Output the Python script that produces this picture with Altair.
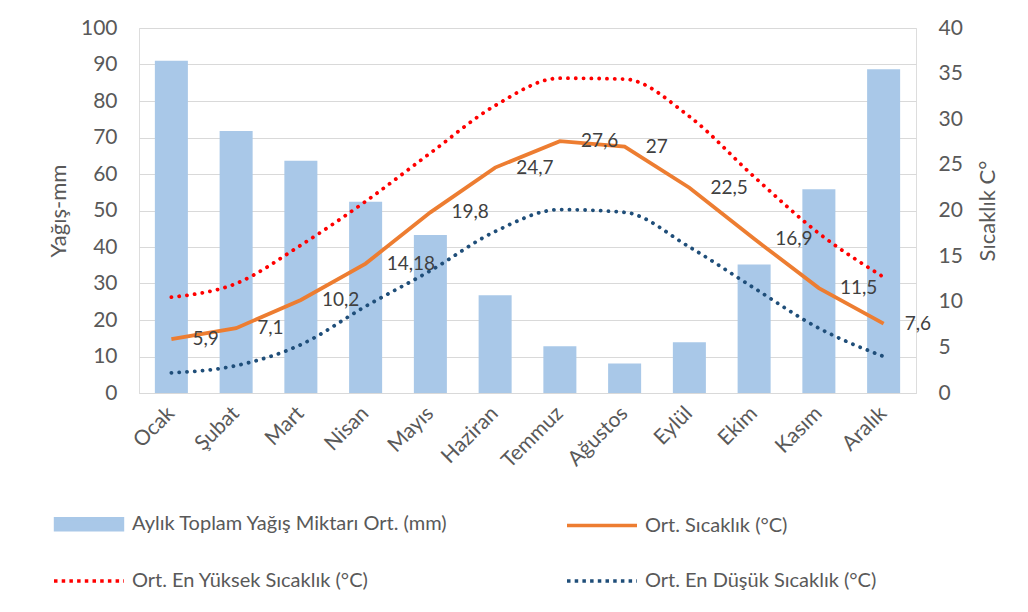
import altair as alt
import pandas as pd

months = ["Ocak", "Şubat", "Mart", "Nisan", "Mayıs", "Haziran",
          "Temmuz", "Ağustos", "Eylül", "Ekim", "Kasım", "Aralık"]
rain = [91.0, 71.8, 63.6, 52.4, 43.3, 26.8, 12.8, 8.1, 13.9, 35.2, 55.8, 88.7]
t_avg = [5.9, 7.1, 10.2, 14.18, 19.8, 24.7, 27.6, 27, 22.5, 16.9, 11.5, 7.6]
t_max = [10.5, 12.0, 16.2, 21.0, 26.3, 31.5, 34.5, 34.4, 30.3, 23.7, 17.5, 12.7]
t_min = [2.2, 3.0, 5.3, 9.5, 13.4, 17.7, 20.1, 19.8, 16.0, 11.5, 7.1, 4.0]

# legend order (column-major in a 2-column legend)
series = ["Aylık Toplam Yağış Miktarı Ort. (mm)", "Ort. En Yüksek Sıcaklık (°C)",
          "Ort. Sıcaklık (°C)", "Ort. En Düşük Sıcaklık (°C)"]
bar_color = "#A9C8E8"
avg_color = "#ED7D31"
max_color = "#FF0000"
min_color = "#1F4E79"
series_colors = [bar_color, max_color, avg_color, min_color]
left_ticks = list(range(0, 101, 10))
right_ticks = list(range(0, 41, 5))

FONT = "Lato"
TICK_COLOR = "#595959"
GRID = "#D9D9D9"

df = pd.DataFrame({
    "month": months,
    "rain": rain,
    "t_avg": t_avg,
    "t_max": t_max,
    "t_min": t_min,
    "label": [f"{v:g}".replace(".", ",") for v in t_avg],
})

base = alt.Chart(df)

x_enc = alt.X(
    "month:N",
    scale=alt.Scale(domain=months, paddingInner=0.49, paddingOuter=0.245),
    axis=alt.Axis(title=None, labelAngle=315, labelAlign="right", labelBaseline="middle",
                  labelPadding=17, labelFontSize=21, labelColor=TICK_COLOR, labelFont=FONT,
                  domainColor=GRID, domainWidth=1, ticks=False, tickSize=0, grid=False),
)

bars = base.mark_bar(color=bar_color).encode(
    x=x_enc,
    y=alt.Y("rain:Q", scale=alt.Scale(domain=[0, 100]),
            axis=alt.Axis(orient="left", values=left_ticks, title="Yağış-mm",
                          titleFontSize=22, titleFont=FONT, titleColor=TICK_COLOR,
                          titleFontWeight="normal", titlePadding=10,
                          labelFontSize=21, labelFont=FONT, labelColor=TICK_COLOR,
                          labelPadding=22, ticks=False, tickSize=0, domain=False,
                          grid=True, gridColor=GRID, gridWidth=1)),
)

temp_scale = alt.Scale(domain=[0, 40])
right_axis = alt.Axis(orient="right", values=right_ticks, title="Sıcaklık C°",
                      titleAngle=270, titleBaseline="top",
                      titleFontSize=22, titleFont=FONT, titleColor=TICK_COLOR,
                      titleFontWeight="normal", titlePadding=15,
                      labelFontSize=21, labelFont=FONT, labelColor=TICK_COLOR,
                      labelPadding=22, ticks=False, tickSize=0, domain=False, grid=False)


def ty(field):
    return alt.Y(f"{field}:Q", scale=temp_scale, axis=right_axis)


line_avg = base.mark_line(color=avg_color, strokeWidth=3.8).encode(
    x=x_enc, y=ty("t_avg"))
line_max = base.mark_line(color=max_color, strokeWidth=3.8, strokeDash=[0.1, 7.7],
                          strokeCap="round", interpolate="monotone").encode(
    x=x_enc, y=ty("t_max"))
line_min = base.mark_line(color=min_color, strokeWidth=3.8, strokeDash=[0.1, 7.7],
                          strokeCap="round", interpolate="monotone").encode(
    x=x_enc, y=ty("t_min"))
labels = base.mark_text(align="left", baseline="middle", dx=21, fontSize=19,
                        font=FONT, color="#404040").encode(
    x=x_enc, y=ty("t_avg"), text="label:N")

temps = alt.layer(line_avg, line_max, line_min, labels)

# legend symbols
rect_path = "M-2.39,-0.39H2.39V0.39H-2.39Z"
line_path = "M-2.5,0H2.5"
shapes = [rect_path, line_path, line_path, line_path]
dashes = [[1, 0], [3.5, 4.2], [1, 0], [3.5, 4.2]]

leg = alt.Legend(title=None, orient="none", legendX=-66, legendY=480, columns=2,
                 labelFont=FONT, labelFontSize=20, labelColor=TICK_COLOR,
                 symbolSize=784, symbolStrokeWidth=3.5, labelOffset=27,
                 rowPadding=28, columnPadding=111, labelLimit=600, padding=0,
                 symbolOpacity=1)

legend_layer = alt.Chart(pd.DataFrame({"series": series})).mark_point(opacity=0).encode(
    x=alt.value(0), y=alt.value(0),
    fill=alt.Fill("series:N", scale=alt.Scale(domain=series, range=series_colors), legend=leg),
    stroke=alt.Stroke("series:N", scale=alt.Scale(domain=series, range=series_colors), legend=leg),
    shape=alt.Shape("series:N", scale=alt.Scale(domain=series, range=shapes), legend=leg),
    strokeDash=alt.StrokeDash("series:N", scale=alt.Scale(domain=series, range=dashes), legend=leg),
)

chart = alt.layer(bars, temps, legend_layer).resolve_scale(y="independent").properties(
    width=777, height=365,
    padding={"left": 131, "top": 20, "right": 104, "bottom": 203},
    autosize=alt.AutoSizeParams(type="none"),
).configure_view(stroke=None).configure(font=FONT)

chart.save("out.html", embed_options={"renderer": "svg", "actions": False})
